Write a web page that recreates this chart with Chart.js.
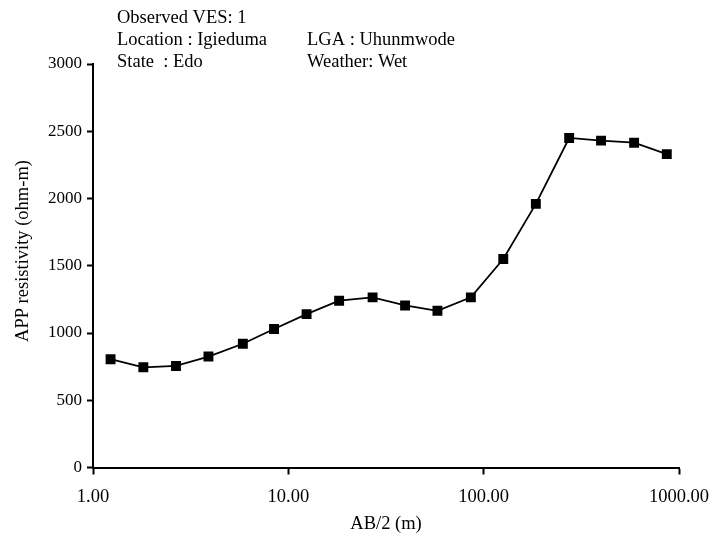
<!DOCTYPE html>
<html>
<head>
<meta charset="utf-8">
<script src="https://cdn.jsdelivr.net/npm/chart.js@4/dist/chart.umd.min.js"></script>
<style>
  html, body { margin: 0; padding: 0; background: #fff; }
  #wrap { width: 718px; height: 540px; position: relative; }
</style>
</head>
<body>
<div id="wrap"><canvas id="c" width="718" height="540"></canvas></div>
<script>
// AB/2 spacing (m)
const abHalf = [1.23, 1.81, 2.66, 3.9, 5.85, 8.45, 12.4, 18.2, 27, 39.6, 58, 86, 126, 185, 274, 399, 589, 866];
// Apparent resistivity (ohm-m)
const appResistivity = [805, 745, 755, 825, 920, 1030, 1140, 1240, 1265, 1205, 1165, 1265, 1550, 1960, 2450, 2430, 2415, 2330];
// Axis tick values
const xTickValues = [1, 10, 100, 1000];
const yTickValues = [0, 500, 1000, 1500, 2000, 2500, 3000];
// Header text
const headerLeft = ["Observed VES: 1", "Location : Igieduma", "State  : Edo"];
const headerRight = ["", "LGA : Uhunmwode", "Weather: Wet"];
const yTitle = "APP resistivity (ohm-m)";
const xTitle = "AB/2 (m)";

const FONT = "'Liberation Serif', 'Times New Roman', serif";

const headerPlugin = {
  id: 'header',
  afterDraw(chart) {
    const ctx = chart.ctx;
    ctx.save();
    ctx.fillStyle = '#000';
    ctx.font = "18.5px " + FONT;
    ctx.textBaseline = 'alphabetic';
    ctx.textAlign = 'left';
    const ys = [22.5, 44.5, 66.5];
    headerLeft.forEach((t, i) => ctx.fillText(t, 117, ys[i]));
    headerRight.forEach((t, i) => { if (t) ctx.fillText(t, 307, ys[i]); });
    // Y axis title
    ctx.translate(23, 251);
    ctx.rotate(-Math.PI / 2);
    ctx.textAlign = 'center';
    ctx.textBaseline = 'middle';
    ctx.fillText(yTitle, 0, 0);
    ctx.restore();
  }
};

const points = abHalf.map((x, i) => ({ x: x, y: appResistivity[i] }));

new Chart(document.getElementById('c'), {
  type: 'line',
  data: {
    datasets: [{
      data: points,
      borderColor: '#000',
      borderWidth: 1.8,
      backgroundColor: '#000',
      pointStyle: 'rect',
      pointRadius: 7,
      pointHoverRadius: 7,
      pointBackgroundColor: '#000',
      pointBorderColor: '#000',
      pointBorderWidth: 0,
      tension: 0,
      fill: false
    }]
  },
  options: {
    responsive: false,
    animation: false,
    devicePixelRatio: 1,
    layout: { padding: { top: 64, right: 39, left: 0, bottom: 0 } },
    plugins: {
      legend: { display: false },
      tooltip: { enabled: false },
      title: { display: false }
    },
    scales: {
      x: {
        type: 'logarithmic',
        min: 1,
        max: 1000,
        afterBuildTicks(scale) { scale.ticks = xTickValues.map(v => ({ value: v })); },
        afterFit(scale) {
          scale.height = 540 - 467.5;
          scale.paddingRight = 0;
          scale.paddingLeft = 0;
        },
        ticks: {
          color: '#000',
          font: { family: FONT, size: 18.5 },
          padding: 12,
          maxRotation: 0,
          autoSkip: false,
          callback: (v) => Number(v).toFixed(2)
        },
        grid: {
          display: true,
          drawOnChartArea: false,
          drawTicks: true,
          tickLength: 7,
          tickColor: '#000',
          tickWidth: 2
        },
        border: { display: true, color: '#000', width: 2 },
        title: {
          display: true,
          text: xTitle,
          color: '#000',
          font: { family: FONT, size: 18.5 },
          padding: { top: 0, bottom: 5 }
        }
      },
      y: {
        type: 'linear',
        min: 0,
        max: 3000,
        afterBuildTicks(scale) { scale.ticks = yTickValues.map(v => ({ value: v })); },
        afterFit(scale) { scale.width = 93; },
        ticks: {
          color: '#000',
          font: { family: FONT, size: 17 },
          padding: 5,
          autoSkip: false,
          callback: (v) => String(v)
        },
        grid: {
          display: true,
          drawOnChartArea: false,
          drawTicks: true,
          tickLength: 6,
          tickColor: '#000',
          tickWidth: 2
        },
        border: { display: true, color: '#000', width: 2 },
        title: { display: false }
      }
    }
  },
  plugins: [headerPlugin]
});
</script>
</body>
</html>
